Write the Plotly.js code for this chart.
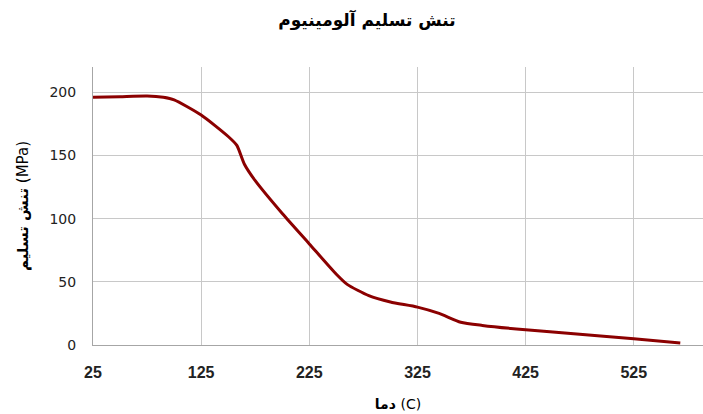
<!DOCTYPE html>
<html>
<head>
<meta charset="utf-8">
<script src="https://cdn.plot.ly/plotly-3.0.1.min.js"></script>
<style>html,body{margin:0;padding:0;background:#fff}#chart{width:703px;height:414px}</style>
</head>
<body>
<div id="chart"></div>
<script>
var temperatures = [25, 50, 75, 90, 100, 125, 150, 158, 165, 175, 200, 225, 250, 260, 280, 300, 325, 345, 365, 385, 425, 475, 525, 568];
var yieldStress = [196, 196.5, 197, 196, 194, 182, 165, 158, 143, 130, 104, 80, 56, 48, 39, 34, 30, 25, 18, 15.5, 12, 8.5, 5, 1.5];
var xTicks = [25, 125, 225, 325, 425, 525];
var yTicks = [0, 50, 100, 150, 200];
var chartTitle = 'تنش تسلیم آلومینیوم';
var xTitleFa = 'دما';
var xTitleUnit = '(C)';
var yTitleFa = 'تنش تسلیم';
var yTitleUnit = '(MPa)';

var trace = {
  x: temperatures,
  y: yieldStress,
  type: 'scatter',
  mode: 'lines',
  line: {color: '#8b0000', width: 3, shape: 'spline', smoothing: 0.6},
  hoverinfo: 'x+y'
};

var layout = {
  width: 703, height: 414,
  margin: {l: 93, r: 0, t: 67, b: 69},
  paper_bgcolor: '#fff', plot_bgcolor: '#fff',
  showlegend: false,
  title: {text: '<b>' + chartTitle + '</b>', x: 0.522, xanchor: 'center', y: 0.952, yanchor: 'middle',
          font: {family: 'DejaVu Sans', size: 17, color: '#000'}},
  xaxis: {
    range: [25, 589], tickvals: xTicks, ticktext: xTicks.map(String),
    showgrid: true, gridcolor: '#c8c8c8', gridwidth: 1,
    showline: true, linecolor: '#a6a6a6', linewidth: 1,
    zeroline: false, ticks: '', ticklen: 0, ticklabelstandoff: 13,
    tickfont: {family: 'Liberation Sans Narrow, Liberation Sans', size: 16, color: '#222', weight: 'bold'},
    title: {text: '<b>' + xTitleFa + '</b> ' + xTitleUnit, standoff: 18, font: {family: 'DejaVu Sans', size: 14, color: '#000'}}
  },
  yaxis: {
    range: [0, 220], tickvals: yTicks,
    showgrid: true, gridcolor: '#c8c8c8', gridwidth: 1,
    showline: true, linecolor: '#a6a6a6', linewidth: 1,
    zeroline: false, ticks: '', ticklen: 0, ticklabelstandoff: 13,
    tickfont: {family: 'DejaVu Sans', size: 14, color: '#222'},
    title: {text: '<b>' + yTitleFa + '</b> ' + yTitleUnit, standoff: 17, font: {family: 'DejaVu Sans', size: 15, color: '#000'}}
  }
};

Plotly.newPlot('chart', [trace], layout, {displayModeBar: false, staticPlot: true});
</script>
</body>
</html>
